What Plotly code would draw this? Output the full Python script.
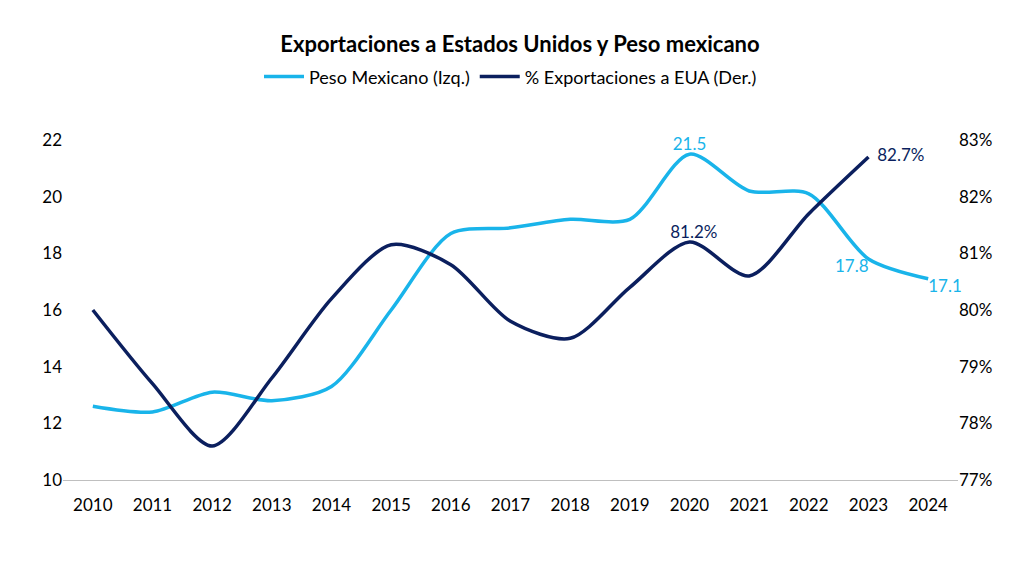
import plotly.graph_objects as go

years = list(range(2010, 2025))
peso = [12.6, 12.4, 13.1, 12.8, 13.3, 16.0, 18.7, 18.9, 19.2, 19.2, 21.5, 20.2, 20.1, 17.8, 17.1]
years_exp = years[:-1]
exports = [80.0, 78.7, 77.6, 78.8, 80.2, 81.15, 80.8, 79.8, 79.5, 80.4, 81.2, 80.6, 81.7, 82.7]

light = "#19b4ea"
navy = "#0b1f5e"
font = "Lato"

fig = go.Figure()
fig.add_trace(go.Scatter(
    x=years, y=peso, name="Peso Mexicano (Izq.)", mode="lines",
    line=dict(color=light, width=3.5, shape="spline", smoothing=0.8)))
fig.add_trace(go.Scatter(
    x=years_exp, y=exports, name="% Exportaciones a EUA (Der.)", mode="lines",
    line=dict(color=navy, width=3.5, shape="spline", smoothing=0.8), yaxis="y2"))

# data labels
for i, pos in [(10, "top center"), (13, "bottom left"), (14, "bottom right")]:
    fig.add_trace(go.Scatter(x=[years[i]], y=[peso[i]], mode="text", text=[f"{peso[i]:.1f}"],
                             textposition=pos, textfont=dict(color=light, size=17, family=font),
                             showlegend=False, cliponaxis=False))
for i, pos in [(10, "top center"), (13, "middle right")]:
    fig.add_trace(go.Scatter(x=[years_exp[i]], y=[exports[i]], mode="text", text=[f"  {exports[i]:.1f}%"],
                             textposition=pos, textfont=dict(color=navy, size=17, family=font),
                             showlegend=False, yaxis="y2", cliponaxis=False))

fig.update_layout(
    width=1024, height=574,
    paper_bgcolor="white", plot_bgcolor="white",
    font=dict(family=font, size=17, color="black"),
    title=dict(text="<b>Exportaciones a Estados Unidos y Peso mexicano</b>", x=0.5, y=0.95,
               xanchor="center", font=dict(size=22, family=font)),
    legend=dict(orientation="h", x=0.5, xanchor="center", y=1.24, yanchor="top",
                font=dict(size=18), itemwidth=40),
    margin=dict(l=55, r=74, t=132, b=102),
    xaxis=dict(range=[2009.5, 2024.5], dtick=1, showgrid=False, showline=True,
               linecolor="#bfbfbf", ticks="", tickfont=dict(size=17), zeroline=False,
               ticklabelstandoff=10),
    yaxis=dict(range=[10, 22], dtick=2, showgrid=False, showline=False, zeroline=False,
               tickfont=dict(size=17)),
    yaxis2=dict(range=[77, 83], dtick=1, overlaying="y", side="right", showgrid=False,
                ticksuffix="%", tickfont=dict(size=17), zeroline=False),
)

fig.write_html("out.html")
